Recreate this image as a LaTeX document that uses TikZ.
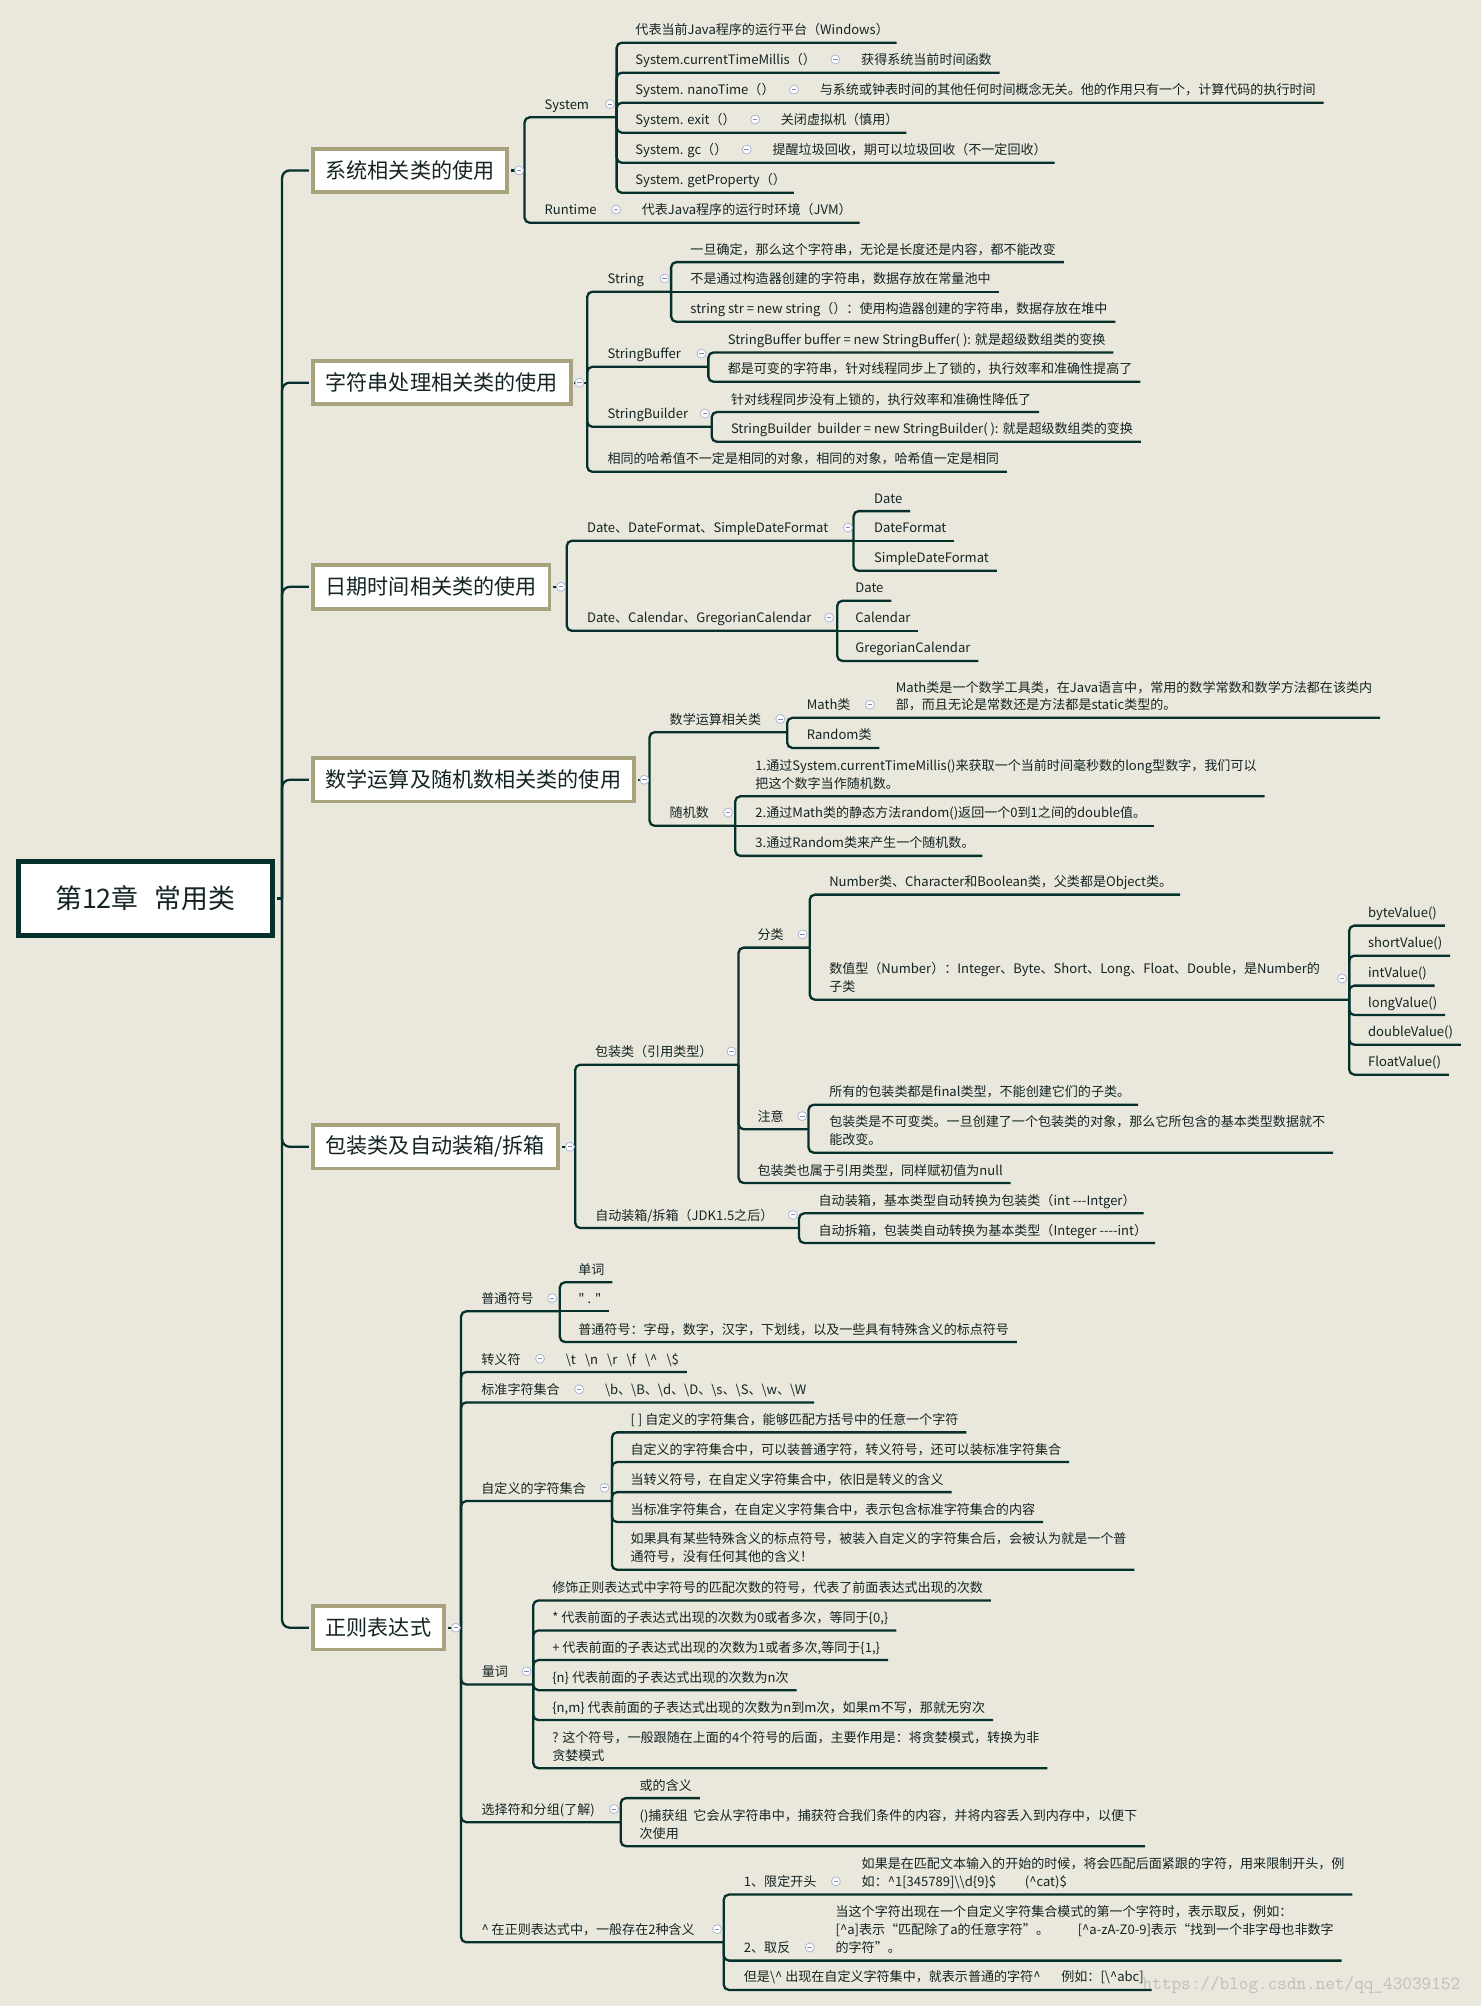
\documentclass[tikz,border=0pt]{standalone}
\usepackage{fontspec}
\setmainfont{Noto Sans CJK SC}[Ligatures=TeXOff]
\definecolor{bgc}{HTML}{EAE8DC}
\definecolor{linec}{HTML}{05302C}
\definecolor{khaki}{HTML}{A8A37D}
\definecolor{txtc}{HTML}{142424}
\definecolor{foldc}{HTML}{AAB4D4}
\definecolor{markc}{HTML}{8089AE}
\definecolor{wmark}{HTML}{BEBEBE}
\newcommand\bsl{\textbackslash}
\newcommand\crt{\textasciicircum}
\newcommand\mlines[1]{\begin{tabular}[b]{@{}l@{}}#1\end{tabular}}
% underline from a bar junction to a label (and on to an inline child)
\newcommand\ulink[2]{\draw[conn] (#1) |- (#2.south west) -- ([xshift=6pt]#2.south east);}
\newcommand\ulinkc[3]{\draw[conn] (#1) |- (#2.south west) -- ([xshift=6pt]#3.south east);}
\newcommand\slink[2]{\draw[conn] (#1) -- (#2.south west) -- ([xshift=6pt]#2.south east);}
\begin{document}
\begin{tikzpicture}[x=1pt,y=-1pt,
  conn/.style={draw=linec,line width=1.8pt,rounded corners=4pt},
  spine/.style={draw=linec,line width=1.8pt,rounded corners=6pt},
  lbl/.style={anchor=south west,inner sep=0pt,text depth=6pt,text=txtc,
    font=\fontsize{10.2}{14}\selectfont},
  topic/.style={anchor=west,draw=khaki,line width=3pt,fill=white,inner xsep=10pt,
    minimum height=34pt,text=txtc,font=\fontsize{16.5}{20}\selectfont},
  rootbox/.style={draw=linec,line width=3.8pt,fill=white,minimum width=198.7pt,
    minimum height=57.6pt,text=txtc,font=\fontsize{21}{25}\selectfont},
  fold/.style={circle,draw=foldc,fill=white,line width=0.6pt,minimum size=7pt,
    inner sep=0pt,path picture={\draw[markc,line width=0.7pt]
      ([xshift=-1.8pt]path picture bounding box.center) --
      ([xshift=1.8pt]path picture bounding box.center);}},
]
\fill[bgc] (0,0) rectangle (1158,1568);
\useasboundingbox (0,0) rectangle (1158,1568);

% ---------- root and main topics ----------
\node[rootbox] (root) at (113.6,702.3) {第12章\hspace{0.6em}常用类};
\coordinate (R) at (220.5,702.3);
\draw[conn] ([xshift=1.9pt]root.east) -- (R);

\node[topic] (m1) at (243,133.2) {系统相关类的使用};
\node[topic] (m2) at (243,299.1) {字符串处理相关类的使用};
\node[topic] (m3) at (243,458.7) {日期时间相关类的使用};
\node[topic] (m4) at (243,609.5) {数学运算及随机数相关类的使用};
\node[topic] (m5) at (243,896.4) {包装类及自动装箱/拆箱};
\node[topic] (m6) at (243,1272.3) {正则表达式};
\foreach \m in {m1,m2,m3,m4,m5,m6} {\draw[spine] (R) |- ([xshift=-1.5pt]\m.west);}

\coordinate (j1) at (410,133.2);
\coordinate (j2) at (459,299.1);
\coordinate (j3) at (443,458.7);
\coordinate (j4) at (507.7,609.5);
\coordinate (j5) at (449.6,896.4);
\coordinate (j6) at (360.4,1272.3);
\foreach \m/\j in {m1/j1,m2/j2,m3/j3,m4/j4,m5/j5,m6/j6} {\draw[conn] ([xshift=1.5pt]\m.east) -- (\j);}

% ---------- 系统相关类 ----------
\node[lbl] (sys) at (425.5,91.7) {System};
\coordinate (jsys) at (482,91.7);
\draw[conn] (j1) |- (sys.south west) -- (jsys);
\node[lbl] (rt) at (425.5,174.1) {Runtime};
\node[lbl] (rtc) at ([xshift=35pt]rt.south east) {代表Java程序的运行时环境（JVM）};
\ulinkc{j1}{rt}{rtc}
\node[fold] (frt) at ([xshift=15pt,yshift=10.3pt]rt.south east) {};

\node[lbl] (s1) at (496.5,33.4) {代表当前Java程序的运行平台（Windows）};
\ulink{jsys}{s1}
\node[lbl] (s2) at (496.5,56.8) {System.currentTimeMillis（）};
\node[lbl] (s2c) at ([xshift=35pt]s2.south east) {获得系统当前时间函数};
\ulinkc{jsys}{s2}{s2c}
\node[lbl] (s3) at (496.5,80.3) {System. nanoTime（）};
\node[lbl] (s3c) at ([xshift=35pt]s3.south east) {与系统或钟表时间的其他任何时间概念无关。他的作用只有一个，计算代码的执行时间};
\ulinkc{jsys}{s3}{s3c}
\node[lbl] (s4) at (496.5,103.7) {System. exit（）};
\node[lbl] (s4c) at ([xshift=35pt]s4.south east) {关闭虚拟机（慎用）};
\ulinkc{jsys}{s4}{s4c}
\node[lbl] (s5) at (496.5,127.2) {System. gc（）};
\node[lbl] (s5c) at ([xshift=35pt]s5.south east) {提醒垃圾回收，期可以垃圾回收（不一定回收）};
\ulinkc{jsys}{s5}{s5c}
\node[lbl] (s6) at (496.5,150.7) {System. getProperty（）};
\ulink{jsys}{s6}
\foreach \n in {s2,s3,s4,s5} {\node[fold] (f\n) at ([xshift=15pt,yshift=10.3pt]\n.south east) {};}
\node[fold] (fsys) at (476.8,81.4) {};

% ---------- 字符串处理相关类 ----------
\node[lbl] (str) at (474.7,228) {String};
\coordinate (jstr) at (524.6,228);
\draw[conn] (j2) |- (str.south west) -- (jstr);
\node[lbl] (str1) at (539.5,204.9) {一旦确定，那么这个字符串，无论是长度还是内容，都不能改变};
\node[lbl] (str2) at (539.5,228) {不是通过构造器创建的字符串，数据存放在常量池中};
\node[lbl] (str3) at (539.5,251.5) {string str = new string（）：使用构造器创建的字符串，数据存放在堆中};
\ulink{jstr}{str1}
\slink{jstr}{str2}
\ulink{jstr}{str3}

\node[lbl] (sbf) at (474.7,286.7) {StringBuffer};
\coordinate (jsbf) at (553.7,286.7);
\draw[conn] (j2) |- (sbf.south west) -- (jsbf);
\node[lbl] (sbf1) at (568.7,275.5) {StringBuffer buffer = new StringBuffer( ): 就是超级数组类的变换};
\node[lbl] (sbf2) at (568.7,298.4) {都是可变的字符串，针对线程同步上了锁的，执行效率和准确性提高了};
\ulink{jsbf}{sbf1}
\ulink{jsbf}{sbf2}

\node[lbl] (sbd) at (474.7,333.6) {StringBuilder};
\coordinate (jsbd) at (556.3,333.6);
\draw[conn] (j2) |- (sbd.south west) -- (jsbd);
\node[lbl] (sbd1) at (571.2,322.1) {针对线程同步没有上锁的，执行效率和准确性降低了};
\node[lbl] (sbd2) at (571.2,345.3) {StringBuilder\ \ builder = new StringBuilder( ): 就是超级数组类的变换};
\ulink{jsbd}{sbd1}
\ulink{jsbd}{sbd2}

\node[lbl] (hash) at (474.7,368.8) {相同的哈希值不一定是相同的对象，相同的对象，哈希值一定是相同};
\ulink{j2}{hash}
\node[fold] (fstr) at (519.5,217.7) {};
\node[fold] (fsbf) at (548.4,276.4) {};
\node[fold] (fsbd) at (551,323.3) {};

% ---------- 日期时间相关类 ----------
\node[lbl] (df) at (458.7,422.7) {Date、DateFormat、SimpleDateFormat};
\coordinate (jdf) at (667.2,422.7);
\draw[conn] (j3) |- (df.south west) -- (jdf);
\node[lbl] (df1) at (683.1,399.5) {Date};
\node[lbl] (df2) at (683.1,422.7) {DateFormat};
\node[lbl] (df3) at (683.1,446.2) {SimpleDateFormat};
\ulink{jdf}{df1}
\slink{jdf}{df2}
\ulink{jdf}{df3}

\node[lbl] (cal) at (458.7,493.1) {Date、Calendar、GregorianCalendar};
\coordinate (jcal) at (654.4,493.1);
\draw[conn] (j3) |- (cal.south west) -- (jcal);
\node[lbl] (cal1) at (668.4,469.6) {Date};
\node[lbl] (cal2) at (668.4,493.1) {Calendar};
\node[lbl] (cal3) at (668.4,516.6) {GregorianCalendar};
\ulink{jcal}{cal1}
\slink{jcal}{cal2}
\ulink{jcal}{cal3}
\node[fold] (fdf) at (662.8,412.4) {};
\node[fold] (fcal) at (648,482.8) {};

% ---------- 数学运算及随机数 ----------
\node[lbl] (mth) at (523.3,572.3) {数学运算相关类};
\coordinate (jmth) at (615.3,572.3);
\draw[conn] (j4) |- (mth.south west) -- (jmth);
\node[lbl] (mc) at (630.5,561.1) {Math类};
\node[lbl] (mcc) at ([xshift=35pt]mc.south east) {\mlines{Math类是一个数学工具类，在Java语言中，常用的数学常数和数学方法都在该类内\\部，而且无论是常数还是方法都是static类型的。}};
\ulinkc{jmth}{mc}{mcc}
\node[lbl] (rc) at (630.5,584.6) {Random类};
\ulink{jmth}{rc}

\node[lbl] (rnd) at (523.3,645.5) {随机数};
\coordinate (jrnd) at (574.7,645.5);
\draw[conn] (j4) |- (rnd.south west) -- (jrnd);
\node[lbl] (r1) at (590.3,622.4) {\mlines{1.通过System.currentTimeMillis()来获取一个当前时间毫秒数的long型数字，我们可以\\把这个数字当作随机数。}};
\node[lbl] (r2) at (590.3,645.5) {2.通过Math类的静态方法random()返回一个0到1之间的double值。};
\node[lbl] (r3) at (590.3,669) {3.通过Random类来产生一个随机数。};
\ulink{jrnd}{r1}
\slink{jrnd}{r2}
\ulink{jrnd}{r3}
\node[fold] (fmth) at (609.9,562) {};
\node[fold] (fmc) at ([xshift=15pt,yshift=10.3pt]mc.south east) {};
\node[fold] (frnd) at (569.1,635.2) {};

% ---------- 包装类 ----------
\node[lbl] (pk) at (464.9,832.2) {包装类（引用类型）};
\coordinate (jpk) at (577.3,832.2);
\draw[conn] (j5) |- (pk.south west) -- (jpk);

\node[lbl] (cls) at (592,740.7) {分类};
\coordinate (jcls) at (632.9,740.7);
\draw[conn] (jpk) |- (cls.south west) -- (jcls);
\node[lbl] (cl1) at (648,699.3) {Number类、Character和Boolean类，父类都是Object类。};
\ulink{jcls}{cl1}
\node[lbl] (cl2) at (648,781.4) {\mlines{数值型（Number）：Integer、Byte、Short、Long、Float、Double，是Number的\\子类}};
\coordinate (jnum) at (1054.6,781.4);
\draw[conn] (jcls) |- (cl2.south west) -- (jnum);
\node[lbl] (v1) at (1069.2,723.5) {byteValue()};
\node[lbl] (v2) at (1069.2,747) {shortValue()};
\node[lbl] (v3) at (1069.2,770.4) {intValue()};
\node[lbl] (v4) at (1069.2,793.4) {longValue()};
\node[lbl] (v5) at (1069.2,816.6) {doubleValue()};
\node[lbl] (v6) at (1069.2,840) {FloatValue()};
\foreach \v in {v1,v2,v3,v4,v5,v6} {\ulink{jnum}{\v}}

\node[lbl] (nt) at (592,882.7) {注意};
\coordinate (jnt) at (632,882.7);
\draw[conn] (jpk) |- (nt.south west) -- (jnt);
\node[lbl] (nt1) at (648,863.5) {所有的包装类都是final类型，不能创建它们的子类。};
\node[lbl] (nt2) at (648,901) {\mlines{包装类是不可变类。一旦创建了一个包装类的对象，那么它所包含的基本类型数据就不\\能改变。}};
\ulink{jnt}{nt1}
\ulink{jnt}{nt2}
\node[lbl] (pk3) at (592,924.7) {包装类也属于引用类型，同样赋初值为null};
\ulink{jpk}{pk3}

\node[lbl] (ab) at (465.1,959.9) {自动装箱/拆箱（JDK1.5之后）};
\coordinate (jab) at (624.6,959.9);
\draw[conn] (j5) |- (ab.south west) -- (jab);
\node[lbl] (ab1) at (639.7,948.4) {自动装箱，基本类型自动转换为包装类（int -{}-{}-Intger）};
\node[lbl] (ab2) at (639.7,971.6) {自动拆箱，包装类自动转换为基本类型（Integer -{}-{}-{}-int）};
\ulink{jab}{ab1}
\ulink{jab}{ab2}
\node[fold] (fpk) at (571.8,821.9) {};
\node[fold] (fcls) at (627.3,730.4) {};
\node[fold] (fnum) at (1049,764.9) {};
\node[fold] (fnt) at (627.1,872.4) {};
\node[fold] (fab) at (619.7,949.6) {};

% ---------- 正则表达式 ----------
\node[lbl] (pl) at (376.1,1025) {普通符号};
\coordinate (jpl) at (437.6,1025);
\draw[conn] (j6) |- (pl.south west) -- (jpl);
\node[lbl] (pl1) at (451.9,1002.3) {单词};
\node[lbl] (pl2) at (451.9,1025) {" . "};
\node[lbl] (pl3) at (451.9,1049) {普通符号：字母，数字，汉字，下划线，以及一些具有特殊含义的标点符号};
\ulink{jpl}{pl1}
\slink{jpl}{pl2}
\ulink{jpl}{pl3}

\node[lbl] (es) at (376.1,1072.4) {转义符};
\node[lbl] (esc) at ([xshift=35pt]es.south east) {\bsl t\hspace{0.7em}\bsl n\hspace{0.7em}\bsl r\hspace{0.7em}\bsl f\hspace{0.7em}\bsl\crt\hspace{0.7em}\bsl\$};
\ulinkc{j6}{es}{esc}
\node[lbl] (sd) at (376.1,1096.2) {标准字符集合};
\node[lbl] (sdc) at ([xshift=35pt]sd.south east) {\bsl b、\bsl B、\bsl d、\bsl D、\bsl s、\bsl S、\bsl w、\bsl W};
\ulinkc{j6}{sd}{sdc}

\node[lbl] (cu) at (376.1,1173.3) {自定义的字符集合};
\coordinate (jcu) at (478.3,1173.3);
\draw[conn] (j6) |- (cu.south west) -- (jcu);
\node[lbl] (cu1) at (492.7,1119.6) {[ ] 自定义的字符集合，能够匹配方括号中的任意一个字符};
\node[lbl] (cu2) at (492.7,1142.8) {自定义的字符集合中，可以装普通字符，转义符号，还可以装标准字符集合};
\node[lbl] (cu3) at (492.7,1166.3) {当转义符号，在自定义字符集合中，依旧是转义的含义};
\node[lbl] (cu4) at (492.7,1189.7) {当标准字符集合，在自定义字符集合中，表示包含标准字符集合的内容};
\node[lbl] (cu5) at (492.7,1227) {\mlines{如果具有某些特殊含义的标点符号，被装入自定义的字符集合后，会被认为就是一个普\\通符号，没有任何其他的含义！}};
\foreach \c in {cu1,cu2,cu3,cu4,cu5} {\ulink{jcu}{\c}}

\node[lbl] (qt) at (376.5,1316.7) {量词};
\coordinate (jqt) at (416.8,1316.7);
\draw[conn] (j6) |- (qt.south west) -- (jqt);
\node[lbl] (qt1) at (431.5,1251) {修饰正则表达式中字符号的匹配次数的符号，代表了前面表达式出现的次数};
\node[lbl] (qt2) at (431.5,1274.4) {* 代表前面的子表达式出现的次数为0或者多次，等同于\{0,\}};
\node[lbl] (qt3) at (431.5,1297.6) {+ 代表前面的子表达式出现的次数为1或者多次,等同于\{1,\}};
\node[lbl] (qt4) at (431.5,1321.1) {\{n\} 代表前面的子表达式出现的次数为n次};
\node[lbl] (qt5) at (431.5,1344.5) {\{n,m\} 代表前面的子表达式出现的次数为n到m次，如果m不写，那就无穷次};
\node[lbl] (qt6) at (431.5,1382.1) {\mlines{? 这个符号，一般跟随在上面的4个符号的后面，主要作用是：将贪婪模式，转换为非\\贪婪模式}};
\foreach \q in {qt1,qt2,qt3,qt4,qt5,qt6} {\ulink{jqt}{\q}}

\node[lbl] (sl) at (376.2,1424.3) {选择符和分组(了解)};
\coordinate (jsl) at (485.2,1424.3);
\draw[conn] (j6) |- (sl.south west) -- (jsl);
\node[lbl] (sl1) at (499.8,1405.5) {或的含义};
\node[lbl] (sl2) at (499.8,1443.1) {\mlines{()捕获组\ \ 它会从字符串中，捕获符合我们条件的内容，并将内容丢入到内存中，以便下\\次使用}};
\ulink{jsl}{sl1}
\ulink{jsl}{sl2}

\node[lbl] (ct) at (376.2,1518.2) {\crt{} 在正则表达式中，一般存在2种含义};
\coordinate (jct) at (565.7,1518.2);
\draw[conn] (j6) |- (ct.south west) -- (jct);
\node[lbl] (ct1) at (581.3,1480.9) {1、限定开头};
\node[lbl] (ct1c) at ([xshift=35pt]ct1.south east) {\mlines{如果是在匹配文本输入的开始的时候，将会匹配后面紧跟的字符，用来限制开头，例\\如：\crt 1[345789]\bsl\bsl d\{9\}\$\hspace{2.2em}(\crt cat)\$}};
\ulinkc{jct}{ct1}{ct1c}
\node[lbl] (ct2) at (581.3,1532.5) {2、取反};
\node[lbl] (ct2c) at ([xshift=35pt]ct2.south east) {\mlines{当这个字符出现在一个自定义字符集合模式的第一个字符时，表示取反，例如：\\\relax[\crt a]表示“匹配除了a的任意字符”。\hspace{2.2em}[\crt a-zA-Z0-9]表示“找到一个非字母也非数字\\的字符”。}};
\ulinkc{jct}{ct2}{ct2c}
\node[lbl] (ct3) at (581.3,1555.4) {但是\bsl\crt{} 出现在自定义字符集中，就表示普通的字符\crt\hspace{1.6em}例如：[\bsl\crt abc]};
\ulink{jct}{ct3}

\node[fold] (fpl) at (431.6,1014.7) {};
\node[fold] (fes) at ([xshift=15pt,yshift=10.3pt]es.south east) {};
\node[fold] (fsd) at ([xshift=15pt,yshift=10.3pt]sd.south east) {};
\node[fold] (fcu) at (472.5,1163) {};
\node[fold] (fqt) at (411.6,1306.4) {};
\node[fold] (fsl) at (480,1414) {};
\node[fold] (fct) at (560.5,1507.9) {};
\node[fold] (fct1) at ([xshift=15pt,yshift=10.3pt]ct1.south east) {};
\node[fold] (fct2) at ([xshift=15pt,yshift=10.3pt]ct2.south east) {};

% ---------- fold marks of the main topics ----------
\foreach \x/\y [count=\i] in {405.8/133.2,453/299.1,438.5/458.7,503.7/609.5,445.5/896.4,356.3/1272.3}
  {\node[fold] (fm\i) at (\x,\y) {};}

% ---------- watermark ----------
\node[anchor=west,inner sep=0pt,text=wmark,font=\ttfamily\fontsize{14.6}{16}\selectfont] (wm)
  at (893,1552) {https://blog.csdn.net/qq\_43039152};
\end{tikzpicture}
\end{document}
